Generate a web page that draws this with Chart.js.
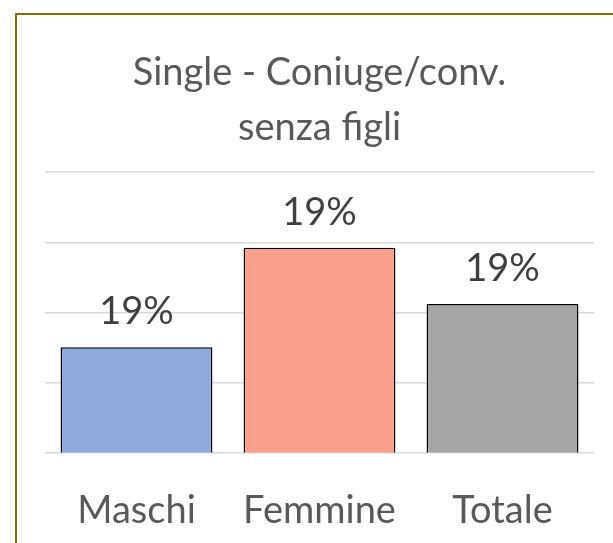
<!DOCTYPE html>
<html>
<head>
<meta charset="utf-8">
<script src="https://cdn.jsdelivr.net/npm/chart.js@4"></script>
<style>
  html, body { margin: 0; padding: 0; background: #ffffff; }
  #wrap { position: relative; width: 613px; height: 543px; overflow: hidden; }
  canvas { display: block; }
</style>
</head>
<body>
<div id="wrap"><canvas id="c" width="613" height="543"></canvas></div>
<script>
const titleLines = ['Single - Coniuge/conv.', 'senza figli'];
const categories = ['Maschi', 'Femmine', 'Totale'];
const values = [18.75, 19.46, 19.06];
const valueLabels = ['19%', '19%', '19%'];
const barColors = ['#8FAADC', '#F9A08A', '#A5A5A5'];

const FONT = 'Lato, "Open Sans", sans-serif';

const framePlugin = {
  id: 'frame',
  beforeDraw(chart) {
    const ctx = chart.ctx;
    ctx.save();
    ctx.fillStyle = '#ffffff';
    ctx.fillRect(0, 0, chart.width, chart.height);
    ctx.strokeStyle = '#8B6B0A';
    ctx.lineWidth = 2;
    ctx.beginPath();
    ctx.moveTo(16, chart.height + 5);
    ctx.lineTo(16, 14);
    ctx.lineTo(chart.width + 5, 14);
    ctx.stroke();
    ctx.restore();
  }
};

const labelPlugin = {
  id: 'valueLabels',
  afterDatasetsDraw(chart) {
    const ctx = chart.ctx;
    const meta = chart.getDatasetMeta(0);
    ctx.save();
    ctx.font = '38px ' + FONT;
    ctx.fillStyle = '#404040';
    ctx.textAlign = 'center';
    ctx.textBaseline = 'alphabetic';
    meta.data.forEach((bar, i) => {
      ctx.fillText(valueLabels[i], bar.x, bar.y - 23);
    });
    ctx.restore();
  }
};

new Chart(document.getElementById('c'), {
  type: 'bar',
  data: {
    labels: categories,
    datasets: [{
      data: values,
      backgroundColor: barColors,
      borderColor: '#000000',
      borderWidth: 1.5,
      borderSkipped: 'bottom',
      barPercentage: 0.83,
      categoryPercentage: 1.0
    }]
  },
  options: {
    responsive: false,
    animation: false,
    devicePixelRatio: 1,
    layout: { padding: { left: 45, right: 19, top: 0, bottom: -19 } },
    plugins: {
      legend: { display: false },
      tooltip: { enabled: false },
      title: {
        display: true,
        text: titleLines,
        color: '#595959',
        font: { family: FONT, size: 38, weight: 'normal', lineHeight: 1.45 },
        padding: { top: 45, bottom: 17 }
      }
    },
    scales: {
      x: {
        grid: { display: false },
        border: { display: false },
        ticks: {
          color: '#595959',
          font: { family: FONT, size: 38 },
          padding: 28
        }
      },
      y: {
        min: 18,
        max: 20,
        ticks: { display: false, stepSize: 0.5 },
        grid: { color: '#D9D9D9', lineWidth: 1.5, drawTicks: false },
        border: { display: false }
      }
    }
  },
  plugins: [framePlugin, labelPlugin]
});
</script>
</body>
</html>
